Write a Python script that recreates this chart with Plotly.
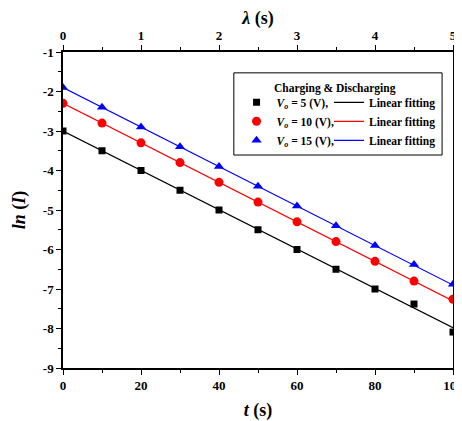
import plotly.graph_objects as go

t = [0, 10, 20, 30, 40, 50, 60, 70, 80, 90, 100]
ln_I_5V = [-3.0, -3.5, -4.0, -4.5, -5.0, -5.5, -6.0, -6.5, -7.0, -7.38, -8.09]
ln_I_10V = [-2.3, -2.8, -3.3, -3.8, -4.3, -4.8, -5.3, -5.8, -6.3, -6.8, -7.26]
ln_I_15V = [-1.9, -2.4, -2.9, -3.4, -3.9, -4.4, -4.9, -5.4, -5.9, -6.38, -6.88]

fit_t = [0, 100]
fit_5V = [-3.0, -7.98]
fit_10V = [-2.3, -7.3]
fit_15V = [-1.9, -6.9]

lam_range = [0, 5]
y_tickvals = [-9, -8, -7, -6, -5, -4, -3, -2, -1]
y_ticktext = ["-9", "-8", "-7", "-6", "-5", "-4", "-3", "-2", "-1"]

colors = ["black", "red", "blue"]
symbols = ["square", "circle", "triangle-up"]
sizes = [7, 9, 9]
labels = ["<i>V</i><sub><i>o</i></sub> = 5 (V),",
          "<i>V</i><sub><i>o</i></sub> = 10 (V),",
          "<i>V</i><sub><i>o</i></sub> = 15 (V),"]
legend_title = "Charging & Discharging"
data = [ln_I_5V, ln_I_10V, ln_I_15V]
fits = [fit_5V, fit_10V, fit_15V]

FONT = "Liberation Serif"
fig = go.Figure()
for i in range(3):
    fig.add_trace(go.Scatter(x=t, y=data[i], mode="markers", name=labels[i],
                             legend="legend",
                             marker=dict(symbol=symbols[i], size=sizes[i], color=colors[i])))
for i in range(3):
    fig.add_trace(go.Scatter(x=fit_t, y=fits[i], mode="lines", name="Linear fitting",
                             legend="legend2",
                             line=dict(color=colors[i], width=1.2)))
# invisible trace to anchor top axis
fig.add_trace(go.Scatter(x=lam_range, y=[-9, -9], xaxis="x2", mode="lines",
                         line=dict(width=0), showlegend=False, hoverinfo="skip"))

axis_common = dict(showgrid=False, zeroline=False, showline=True, linecolor="black",
                   linewidth=1.5, ticks="outside", ticklen=5, tickwidth=1.2,
                   tickcolor="black", automargin=False, ticklabeloverflow="allow",
                   tickfont=dict(family=FONT, size=13, color="black", weight="bold"))

leg_common = dict(xanchor="left", yanchor="top", orientation="v",
                  bgcolor="rgba(0,0,0,0)", borderwidth=0, itemwidth=30,
                  tracegroupgap=0,
                  title=dict(text=" ", side="top",
                             font=dict(family=FONT, size=11.5, weight="bold")),
                  font=dict(family=FONT, size=11.5, color="black", weight="bold"))

fig.update_layout(
    width=454, height=413,
    margin=dict(l=55, r=9, t=44, b=53),
    plot_bgcolor="white", paper_bgcolor="white",
    font=dict(family=FONT, color="black", weight="bold"),
    xaxis=dict(range=[0, 100], dtick=20, tick0=0,
               minor=dict(dtick=10, ticks="outside", ticklen=3, tickcolor="black"),
               title=dict(text="<i>t</i> (s)", font=dict(family=FONT, size=18, weight="bold")),
               **axis_common),
    xaxis2=dict(range=lam_range, dtick=1, tick0=0, overlaying="x", side="top",
                minor=dict(dtick=0.5, ticks="outside", ticklen=3, tickcolor="black"),
                title=dict(text="<i>λ</i> (s)", font=dict(family=FONT, size=18, weight="bold"),
                           standoff=2),
                **axis_common),
    yaxis=dict(range=[-9, -1], tickmode="array", tickvals=y_tickvals, ticktext=y_ticktext,
               mirror=True,
               minor=dict(dtick=0.5, ticks="outside", ticklen=3, tickcolor="black"),
               title=dict(text="<i>ln</i> (<i>I</i>)", font=dict(family=FONT, size=18, weight="bold"),
                          standoff=13),
               **axis_common),
    legend=dict(x=0.445, y=0.934, **leg_common),
    legend2=dict(x=0.682, y=0.934, **leg_common),
    annotations=[dict(text=legend_title, xref="paper", yref="paper",
                      x=0.536, y=0.886, xanchor="left", yanchor="middle",
                      showarrow=False,
                      font=dict(family=FONT, size=11.5, color="black", weight="bold"))],
    shapes=[dict(type="rect", xref="paper", yref="paper",
                 x0=0.438, x1=0.972, y0=0.674, y1=0.934,
                 line=dict(color="black", width=1), fillcolor="rgba(0,0,0,0)")],
    showlegend=True,
)
fig.write_html("out.html")
